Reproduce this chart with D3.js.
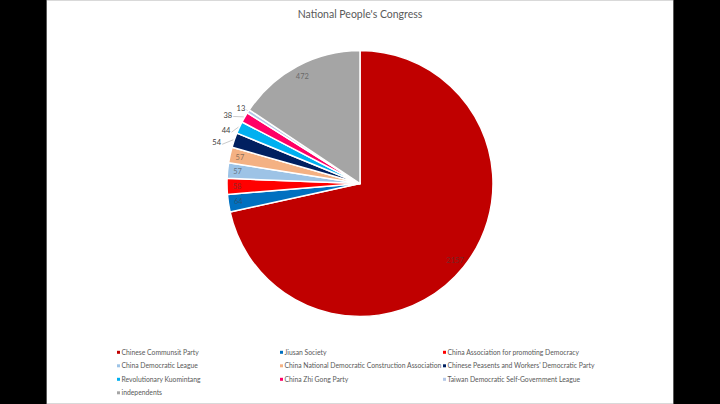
<!DOCTYPE html>
<html><head><meta charset="utf-8">
<script src="https://cdn.jsdelivr.net/npm/d3@7/dist/d3.min.js"></script>
<style>body{margin:0;background:#000;}svg{display:block;}</style>
</head><body>
<svg id="chart" width="720" height="404"></svg>
<script>
const title = "National People's Congress";
const parties = ["Chinese Communsit Party","Jiusan Society","China Association for promoting Democracy",
  "China Democratic League","China National Democratic Construction Association","Chinese Peasents and Workers' Democratic Party",
  "Revolutionary Kuomintang","China Zhi Gong Party","Taiwan Democratic Self-Government League","independents"];
const seats = [2157,64,58,57,57,54,44,38,13,472];
const colors = ["#C00000","#0070C0","#FF0000","#9DC3E6","#F4B183","#002060","#00B0F0","#FF0066","#B4C7E7","#A5A5A5"];
const labelOutside = [false,false,false,false,false,true,true,true,true,false];
// outside label nudges: [radius beyond pie, angle shift in degrees]
const labelNudge = [null,null,null,null,null,[16,-3.2],[11,-3.4],[16,-2.4],[8,-0.5],null];

const svg = d3.select("#chart");
const W = 720, H = 404;
svg.append("rect").attr("x",0).attr("y",0).attr("width",W).attr("height",H).attr("fill","#000");
svg.append("rect").attr("x",46).attr("y",0).attr("width",628).attr("height",H).attr("fill","#5a5a5a");
svg.append("rect").attr("x",47).attr("y",0).attr("width",626).attr("height",H).attr("fill","#fff");
svg.append("line").attr("x1",47).attr("x2",673).attr("y1",0.5).attr("y2",0.5).attr("stroke","#d9d9d9");
svg.append("line").attr("x1",47).attr("x2",673).attr("y1",403.5).attr("y2",403.5).attr("stroke","#d9d9d9");

const font = "Lato, 'Open Sans', sans-serif";
svg.append("text").attr("x",360).attr("y",18).attr("text-anchor","middle")
  .attr("font-family",font).attr("font-size",10.5).attr("fill","#595959").text(title);

const cx = 360, cy = 183.5, r = 133;
const g = svg.append("g").attr("transform",`translate(${cx},${cy})`);
const data = parties.map((p,i)=>({name:p,value:seats[i],color:colors[i],out:labelOutside[i],nudge:labelNudge[i]}));
const pie = d3.pie().sort(null).value(d=>d.value);
const arcs = pie(data);
const arc = d3.arc().innerRadius(0).outerRadius(r);
g.selectAll("path.slice").data(arcs).join("path").attr("class","slice")
  .attr("d",arc).attr("fill",d=>d.data.color).attr("stroke","#fff").attr("stroke-width",1.5).attr("stroke-linejoin","round");

const pt = (rad, ang) => [rad*Math.sin(ang), -rad*Math.cos(ang)];
arcs.forEach(d=>{
  const mid = (d.startAngle+d.endAngle)/2;
  if(!d.data.out){
    const rr = d.data.value>300 ? r-11 : r-10;
    const [x,y] = pt(rr, mid);
    g.append("text").attr("x",x).attr("y",y).attr("dy","0.35em").attr("text-anchor","middle")
      .attr("font-family",font).attr("font-size",7.5).attr("fill","#404040").attr("fill-opacity",0.6).text(d.data.value);
  } else {
    const [dr, da] = d.data.nudge;
    const [lx,ly] = pt(r+dr, mid + da*Math.PI/180);
    const [ex,ey] = pt(r+1, mid);
    g.append("line").attr("x1",lx+5.5).attr("y1",ly+1.5).attr("x2",ex).attr("y2",ey)
      .attr("stroke","#a6a6a6").attr("stroke-width",0.6);
    g.append("text").attr("x",lx).attr("y",ly).attr("dy","0.35em").attr("text-anchor","middle")
      .attr("font-family",font).attr("font-size",7.5).attr("fill","#404040").text(d.data.value);
  }
});

const colX = [118.5,281.5,444.5], rowY0 = 352.3, rowDy = 13.5;
const leg = svg.append("g");
data.forEach((d,i)=>{
  const c = i%3, rw = Math.floor(i/3);
  const x = colX[c], y = rowY0 + rw*rowDy;
  leg.append("rect").attr("x",x-1.5).attr("y",y-1.5).attr("width",3).attr("height",3).attr("fill",d.color);
  leg.append("text").attr("x",x+3).attr("y",y).attr("dy","0.35em").attr("font-family",font)
    .attr("font-size",6.8).attr("fill","#595959").text(d.name);
});
</script>
</body></html>
